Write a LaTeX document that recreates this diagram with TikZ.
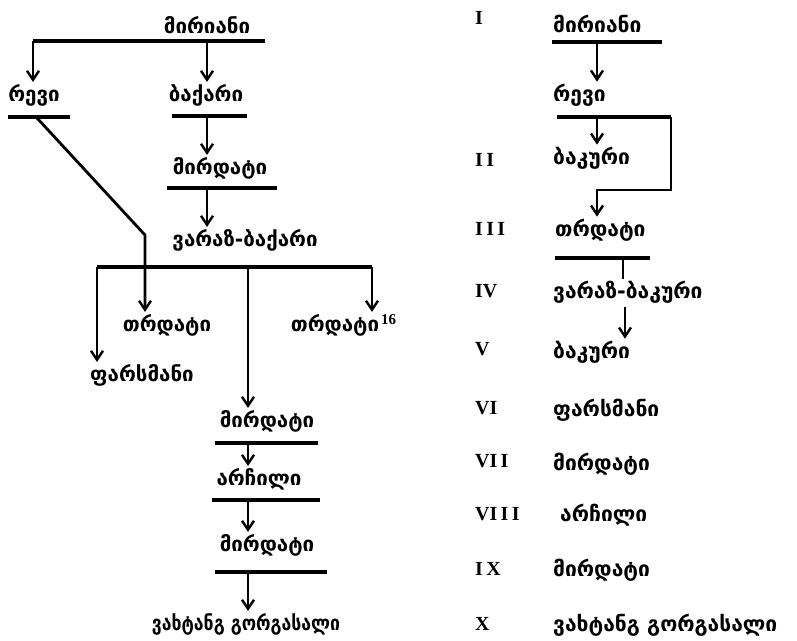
\documentclass[tikz,border=0pt]{standalone}
\usepackage{fontspec}
\usepackage{tikz}
\usetikzlibrary{arrows.meta}
\newfontfamily\geofont{DejaVu Sans}
\newfontfamily\numfont{Liberation Serif}

\begin{document}
\begin{tikzpicture}[x=1pt,y=-1pt]
\tikzset{
  >={Straight Barb[length=9pt,width=12pt,line width=2.4pt]},
  person/.style={font=\geofont\bfseries\fontsize{20.5}{24}\selectfont,inner sep=2pt},
  entry/.style={person,font=\geofont\bfseries\fontsize{21}{25}\selectfont,anchor=west,inner xsep=0pt},
  numeral/.style={font=\numfont\bfseries\fontsize{20}{22}\selectfont,anchor=west,inner sep=0pt},
  bar/.style={line width=3.4pt},
  descent/.style={line width=2.8pt,->},
  link/.style={line width=2.2pt}}
\useasboundingbox (0,0) rectangle (797,640);
\node[person] (mirian) at (207,25) {მირიანი};
\node[person] (revi) at (34,95) {რევი};
\node[person] (bakar) at (206,95) {ბაქარი};
\node[person] (mirdat) at (220,168) {მირდატი};
\node[person] (varaz) at (245,240) {ვარაზ-ბაქარი};
\node[person] (trdatA) at (167,325) {თრდატი};
\node[person] (trdatB) at (335,325) {თრდატი\rlap{\numfont\bfseries\fontsize{15}{16}\selectfont\hspace{2pt}\raisebox{1.0ex}{16}}};
\node[person] (parsman) at (142,375) {ფარსმანი};
\node[person] (mirdatB) at (267,421) {მირდატი};
\node[person] (archil) at (259,479) {არჩილი};
\node[person] (mirdatC) at (267,545) {მირდატი};
\node[person] (vakhtang) at (246,624) {\scalebox{0.86}[1]{ვახტანგ გორგასალი}};
\coordinate (mirianL) at (33,41);   \coordinate (mirianR) at (265,41);  \coordinate (mirianM) at (207,41);
\coordinate (reviL) at (8,117);     \coordinate (reviR) at (70,117);    \coordinate (reviM) at (37,118);
\coordinate (bakarL) at (172,116);  \coordinate (bakarR) at (247,116);  \coordinate (bakarM) at (207,116);
\coordinate (mirdatL) at (167,188); \coordinate (mirdatR) at (277,188); \coordinate (mirdatM) at (207,188);
\coordinate (varazL) at (97,267);   \coordinate (varazR) at (372,267);  \coordinate (varazM) at (248,267);
\coordinate (cross) at (145,235);
\coordinate (mirdatBL) at (215,443); \coordinate (mirdatBR) at (318,443); \coordinate (mirdatBM) at (248,443);
\coordinate (archilL) at (212,500);  \coordinate (archilR) at (320,500);  \coordinate (archilM) at (248,500);
\coordinate (mirdatCL) at (215,572); \coordinate (mirdatCR) at (327,572); \coordinate (mirdatCM) at (248,572);
\foreach \who in {mirian,revi,bakar,mirdat,varaz,mirdatB,archil,mirdatC}
  \draw[bar] (\who L) -- (\who R);
\draw[descent] (mirianL) -- (mirianL |- revi.north);
\draw[descent] (mirianM) -- (mirianM |- bakar.north);
\draw[descent] (bakarM) -- (bakarM |- mirdat.north);
\draw[descent] (mirdatM) -- (mirdatM |- varaz.north);
\draw[descent] (reviM) -- (cross) -- (cross |- trdatA.north);
\draw[descent] (varazL) -- (varazL |- parsman.north);
\draw[descent] (varazM) -- (varazM |- mirdatB.north);
\draw[descent] (varazR) -- (varazR |- trdatB.north);
\draw[descent] (mirdatBM) -- (mirdatBM |- archil.north);
\draw[descent] (archilM) -- (archilM |- mirdatC.north);
\draw[descent] (mirdatCM) -- (mirdatCM |- vakhtang.north);
\foreach \num/\y in {I/18,I\,I/160,I\,I\,I/229,IV/291,V/349,VI/408,VI\,I/461,VI\,I\,I/514,I\,X/569,X/624}
  \node[numeral] at (475,\y) {\num};
\node[entry] (kingI) at (553,24) {მირიანი};
\node[entry] (kingIa) at (553,95) {რევი};
\node[entry] (kingII) at (553,158) {ბაკური};
\node[entry] (kingIII) at (555,230) {თრდატი};
\node[entry] (kingIV) at (553,292) {ვარაზ-ბაკური};
\node[entry] (kingV) at (553,352) {ბაკური};
\node[entry] (kingVI) at (553,410) {ფარსმანი};
\node[entry] (kingVII) at (553,464) {მირდატი};
\node[entry] (kingVIII) at (560,515) {არჩილი};
\node[entry] (kingIX) at (553,570) {მირდატი};
\node[entry] (kingX) at (553,625) {ვახტანგ გორგასალი};
\coordinate (kingIL) at (552,42);    \coordinate (kingIR) at (662,42);    \coordinate (kingIM) at (597,42);
\coordinate (kingIaL) at (557,117);  \coordinate (kingIaR) at (671,117);  \coordinate (kingIaM) at (597,117);
\coordinate (loop) at (597,190);
\coordinate (kingIIIL) at (555,258); \coordinate (kingIIIR) at (650,258); \coordinate (kingIIIM) at (623,258);
\coordinate (kingIVM) at (625,307);
\foreach \who in {kingI,kingIa,kingIII}
  \draw[bar] (\who L) -- (\who R);
\draw[descent] (kingIM) -- (kingIM |- kingIa.north);
\draw[link,->] (kingIaM) -- (kingIaM |- kingII.north);
\draw[link,->] (kingIaR) |- (loop) -- (loop |- kingIII.north);
\draw[link] (kingIIIM) -- (kingIIIM |- kingIV.north);
\draw[link,->] (kingIVM) -- (kingIVM |- kingV.north);
\end{tikzpicture}
\end{document}
